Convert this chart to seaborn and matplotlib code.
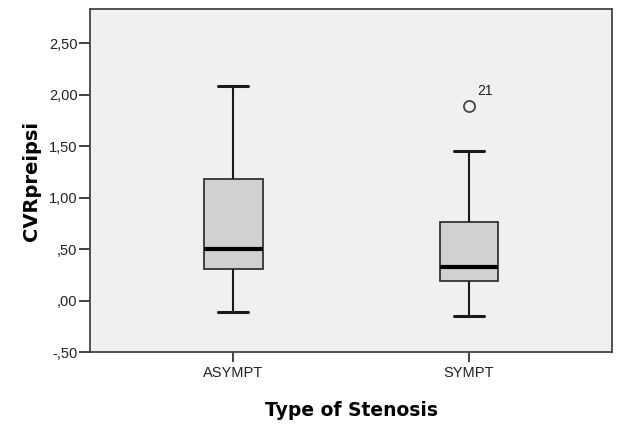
import numpy as np
import pandas as pd
import seaborn as sns
import matplotlib.pyplot as plt
from matplotlib.ticker import FuncFormatter

# values (built so the box stats match the picture)
asympt_vals = [-0.11, 0.31, 0.50, 1.18, 2.08]
sympt_vals = [-0.15, 0.10, 0.19, 0.25, 0.33, 0.50, 0.76, 1.45, 1.89]
groups = ["ASYMPT", "SYMPT"]
outlier_label = "21"
outlier_value = 1.89

df = pd.DataFrame({
    "stenosis": [groups[0]] * len(asympt_vals) + [groups[1]] * len(sympt_vals),
    "CVRpreipsi": asympt_vals + sympt_vals,
})

sns.set_style("white")
plt.rcParams["font.family"] = ["Liberation Sans", "DejaVu Sans"]

fig = plt.figure(figsize=(6.17, 4.26), dpi=100)
ax = fig.add_axes([0.1459, 0.1737, 0.846, 0.805])
ax.set_facecolor("#f0f0f0")

line_kw = dict(color="#1a1a1a", linewidth=1.5)
sns.boxplot(data=df, x="stenosis", y="CVRpreipsi", order=groups, ax=ax,
            width=0.25, color="#d2d1cf", linecolor="#1a1a1a", linewidth=1.5,
            whis=1.5,
            boxprops=dict(edgecolor="#333333", linewidth=1.3),
            whiskerprops=line_kw, capprops=dict(color="#1a1a1a", linewidth=2.2),
            medianprops=dict(color="black", linewidth=3),
            flierprops=dict(marker="o", markersize=8, markerfacecolor="none",
                            markeredgecolor="#444444", markeredgewidth=1.3))

# SPSS style caps: half the box width
for ln in ax.lines:
    xd = np.asarray(ln.get_xdata(), dtype=float)
    yd = np.asarray(ln.get_ydata(), dtype=float)
    if len(xd) == 2 and yd[0] == yd[1] and xd[0] != xd[1]:
        c = xd.mean()
        h = (xd[1] - xd[0]) / 2
        if abs(h) < 0.1:
            ln.set_xdata([c - 0.0625, c + 0.0625])

ax.annotate(outlier_label, xy=(1, outlier_value), xytext=(6, 8),
            textcoords="offset points", fontsize=10, color="#222222")

ax.set_xlim(-0.606, 1.606)
ax.set_ylim(-0.5, 2.83)
ax.set_yticks([-0.5, 0, 0.5, 1.0, 1.5, 2.0, 2.5])

def comma_fmt(v, pos):
    s = f"{v:.2f}".replace(".", ",")
    if s.startswith("0,"):
        s = s[1:]
    elif s.startswith("-0,"):
        s = "-" + s[2:]
    return s

ax.yaxis.set_major_formatter(FuncFormatter(comma_fmt))
ax.tick_params(axis="both", direction="out", length=8, width=1.3,
               color="#333333", labelsize=10.5, labelcolor="#222222", pad=1)
ax.tick_params(axis="y", left=True)
ax.tick_params(axis="x", bottom=True, length=7, pad=3)

for sp in ax.spines.values():
    sp.set_color("#444444")
    sp.set_linewidth(1.3)

ax.set_xlabel("Type of Stenosis", fontsize=13.5, fontweight="bold",
              family="DejaVu Sans", color="black", labelpad=15)
ax.set_ylabel("CVRpreipsi", fontsize=14, fontweight="bold",
              family="DejaVu Sans", color="black", labelpad=6)

fig.savefig("out.png", dpi=100, facecolor="white")
